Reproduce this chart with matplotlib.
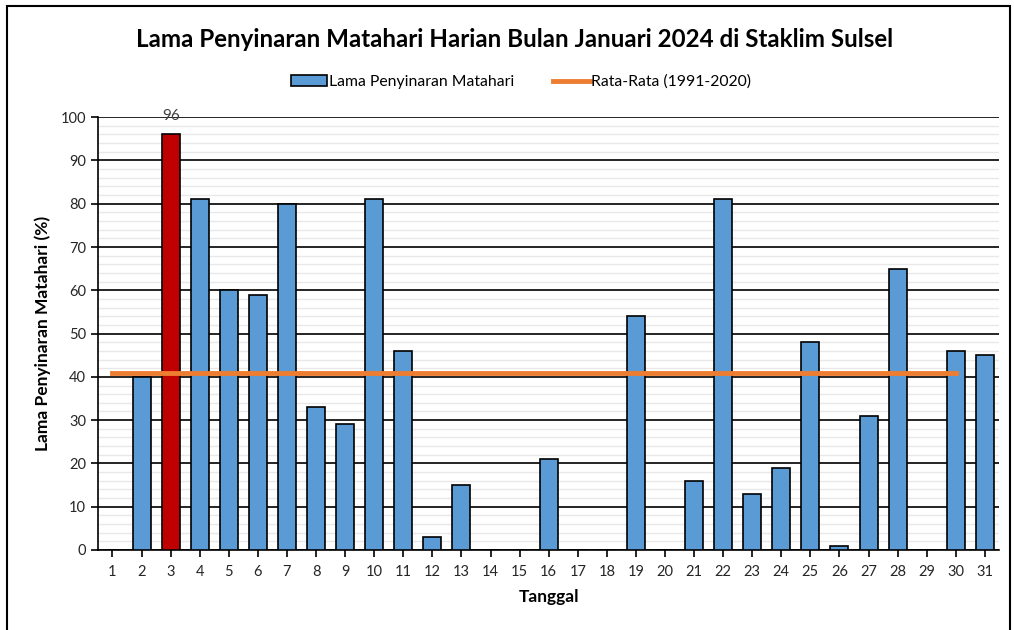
import numpy as np
import matplotlib.pyplot as plt
from matplotlib.patches import Rectangle
from matplotlib.ticker import MultipleLocator

plt.rcParams['font.family'] = ['Lato', 'DejaVu Sans']

# data
days = list(range(1, 32))
sunshine = [0, 40, 96, 81, 60, 59, 80, 33, 29, 81, 46, 3, 15, 0, 0, 21,
            0, 0, 54, 0, 16, 81, 13, 19, 48, 1, 31, 65, 0, 46, 45]
avg_days = list(range(1, 31))
avg_values = [41, 41, 41, 41, 41, 41, 41, 41, 41, 41, 41, 41, 41, 41, 41,
              41, 41, 41, 41, 41, 41, 41, 41, 41, 41, 41, 41, 41, 41, 41]
max_day = 3

blue = '#5B9BD5'
red = '#C00000'
orange = '#ED7D31'

fig = plt.figure(figsize=(10.14, 6.3), dpi=100)
ax = fig.add_axes([0.0966, 0.127, 0.889, 0.687])

colors = [red if d == max_day else blue for d in days]
bars = ax.bar(days, sunshine, width=0.62, color=colors, edgecolor='black',
              linewidth=1.2, zorder=3)
line, = ax.plot(avg_days, avg_values, color=orange, lw=3.5, zorder=4)

ax.text(max_day, sunshine[max_day - 1] + 2.7, str(sunshine[max_day - 1]),
        ha='center', va='bottom', fontsize=11, color='#404040')

ax.set_xlim(0.5, 31.5)
ax.set_ylim(0, 100)
ax.yaxis.set_major_locator(MultipleLocator(10))
ax.yaxis.set_minor_locator(MultipleLocator(2))
ax.set_xticks(days)
ax.grid(axis='y', which='major', color='black', lw=1.2, zorder=1)
ax.grid(axis='y', which='minor', color='#E8E8E8', lw=1.0, zorder=0)
ax.tick_params(axis='y', which='minor', length=0)
ax.tick_params(axis='both', which='major', labelsize=10.5, length=5,
               width=1.2, labelcolor='#262626')
ax.tick_params(axis='x', pad=6)

for s in ['top', 'right']:
    ax.spines[s].set_visible(False)
for s in ['left', 'bottom']:
    ax.spines[s].set_linewidth(1.2)

ax.set_xlabel('Tanggal', fontsize=12.5, fontweight='bold', labelpad=7)
ax.set_ylabel('Lama Penyinaran Matahari (%)', fontsize=12.5,
              fontweight='bold', labelpad=7)

fig.text(0.507, 0.937, 'Lama Penyinaran Matahari Harian Bulan Januari 2024 di Staklim Sulsel',
         ha='center', va='center', fontsize=17.4, fontweight='bold')

bar_handle = Rectangle((0, 0), 1, 1, facecolor=blue, edgecolor='black', lw=1.2)
ax.legend([bar_handle, line], ['Lama Penyinaran Matahari', 'Rata-Rata (1991-2020)'],
          loc='center', bbox_to_anchor=(0.514, 0.87), bbox_transform=fig.transFigure,
          ncol=2, frameon=False, fontsize=11.3, handlelength=2.3,
          handletextpad=0.1, columnspacing=2.5)

# outer chart border
fig.patches.append(Rectangle((0.007, -0.05), 0.989, 1.04, transform=fig.transFigure,
                             fill=False, edgecolor='black', lw=1.5))

fig.savefig('out.png', dpi=100)
